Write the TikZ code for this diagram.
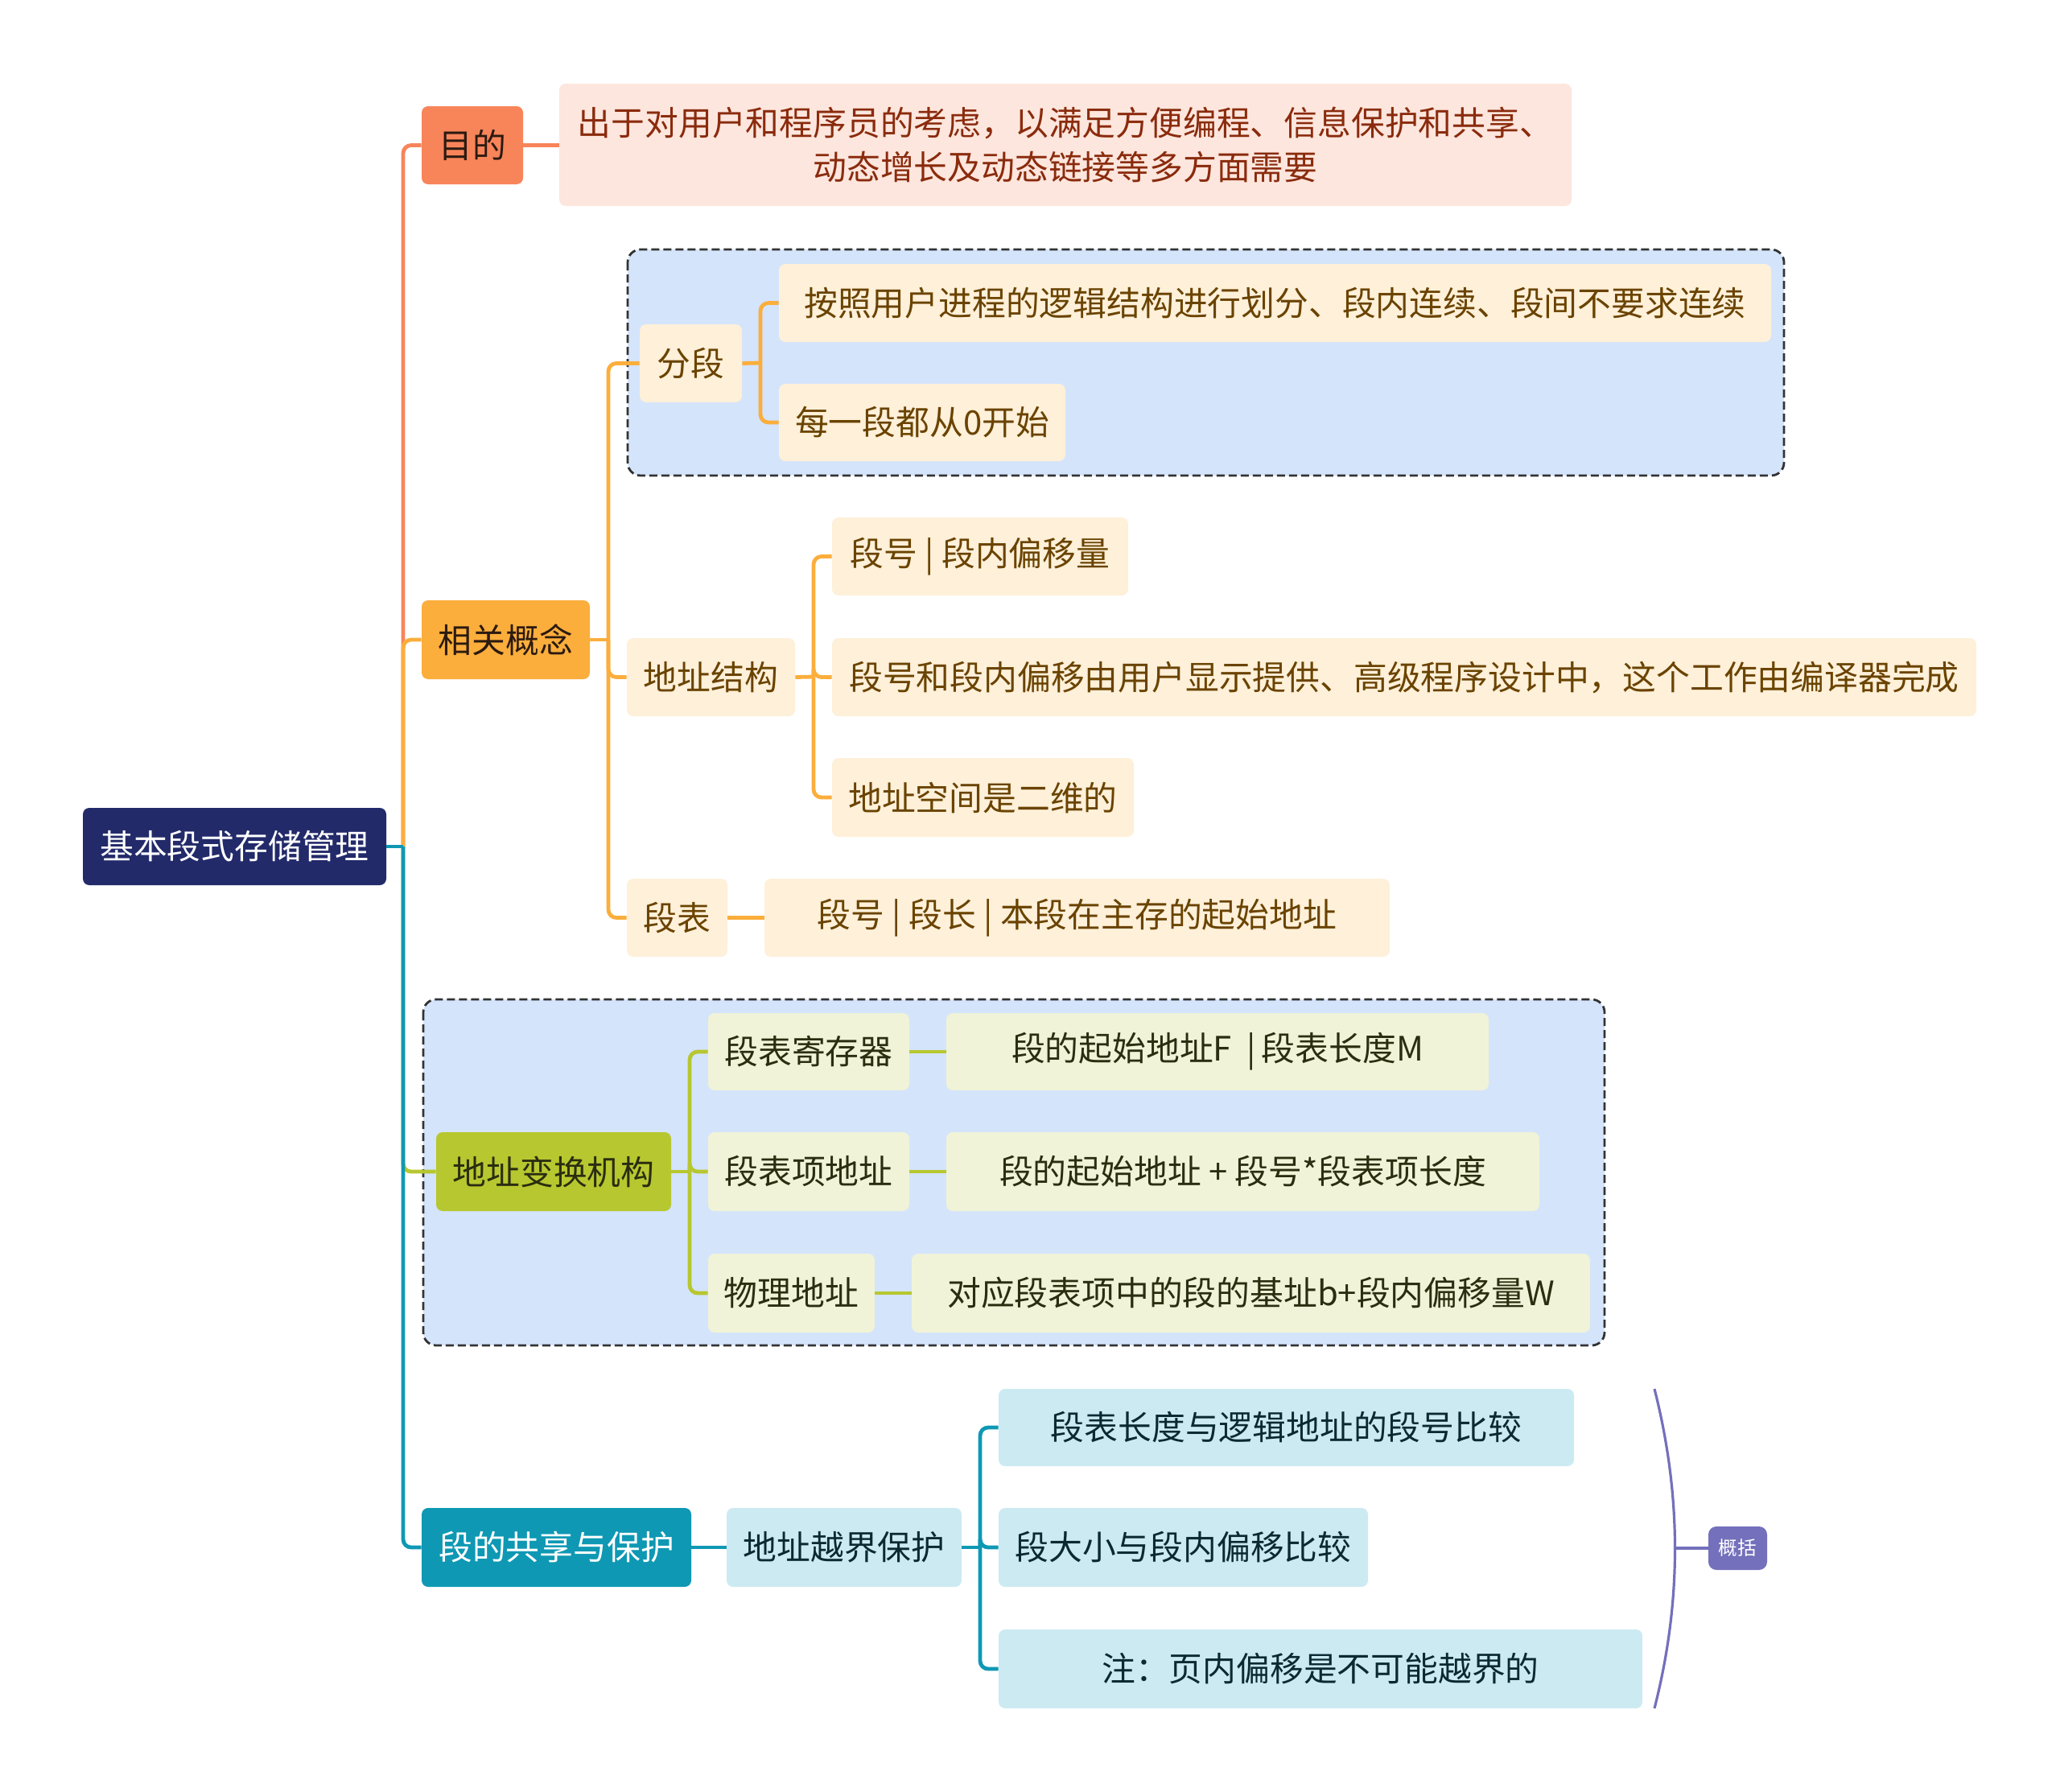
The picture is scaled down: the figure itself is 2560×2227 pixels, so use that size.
\documentclass[tikz,border=0pt]{standalone}
\usepackage{fontspec}
\setmainfont{Noto Sans CJK SC}
\definecolor{rootc}{HTML}{222A6A}
\definecolor{coralc}{HTML}{F8845A}
\definecolor{pinkc}{HTML}{FDE6DD}
\definecolor{pinktext}{HTML}{8A2B0D}
\definecolor{orangec}{HTML}{FBAE3C}
\definecolor{creamc}{HTML}{FEF0D9}
\definecolor{creamtext}{HTML}{6A4300}
\definecolor{olivec}{HTML}{B7C72F}
\definecolor{olive2c}{HTML}{F0F3D7}
\definecolor{olivetext}{HTML}{2A2D10}
\definecolor{tealc}{HTML}{0E98B4}
\definecolor{ltealc}{HTML}{CCEAF2}
\definecolor{tealtext}{HTML}{0A2A33}
\definecolor{purplec}{HTML}{7470BC}
\definecolor{bluebox}{HTML}{D4E4FB}
\definecolor{darktext}{HTML}{2B1A10}
\tikzset{
  base/.style={rounded corners=4pt, inner sep=0pt, align=center, font=\fontsize{20.9}{27.8}\selectfont},
  rootbox/.style={base, fill=rootc, text=white},
  mudibox/.style={base, fill=coralc, text=darktext},
  xgbox/.style={base, fill=orangec, text=darktext},
  dzbox/.style={base, fill=olivec, text=olivetext},
  gxbox/.style={base, fill=tealc, text=white},
  pinkbox/.style={base, fill=pinkc, text=pinktext},
  creambox/.style={base, fill=creamc, text=creamtext},
  olivebox/.style={base, fill=olive2c, text=olivetext},
  ltealbox/.style={base, fill=ltealc, text=tealtext},
  summbox/.style={base, rounded corners=5pt, fill=purplec, text=white, font=\fontsize{11.8}{14}\selectfont},
  conn/.style={line width=2.4pt, rounded corners=5pt},
  dashbox/.style={fill=bluebox, draw=black!80, line width=1.4pt, dash pattern=on 5pt off 2.5pt, rounded corners=8pt}
}
\newcommand\bx[7]{\node[#2, minimum width={(#5-#3)*0.5pt}, minimum height={(#6-#4)*0.5pt}] (#1) at ({(#3+#5)/2},{(#4+#6)/2}) {#7};}
\begin{document}
\begin{tikzpicture}[x=0.5pt, y=-0.5pt]
\useasboundingbox (0,0) rectangle (2560,2227);
% group backgrounds
\draw[dashbox] (780,310) rectangle (2217,591);
\draw[dashbox] (526,1242) rectangle (1994,1672);
% nodes
\bx{root}{rootbox}{103}{1004}{480}{1100}{基本段式存储管理}
\bx{mudi}{mudibox}{524}{132}{650}{229}{目的}
\bx{purp}{pinkbox}{695}{104}{1953}{256}{出于对用户和程序员的考虑，以满足方便编程、信息保护和共享、\\动态增长及动态链接等多方面需要}
\bx{xg}{xgbox}{524}{746}{733}{844}{相关概念}
\bx{fd}{creambox}{795}{403}{922}{500}{分段}
\bx{fd1}{creambox}{968}{328}{2201}{425}{按照用户进程的逻辑结构进行划分、段内连续、段间不要求连续}
\bx{fd2}{creambox}{968}{477}{1324}{573}{每一段都从0开始}
\bx{dzjg}{creambox}{779}{793}{988}{890}{地址结构}
\bx{jg1}{creambox}{1034}{643}{1402}{740}{段号 | 段内偏移量}
\bx{jg2}{creambox}{1034}{793}{2456}{890}{段号和段内偏移由用户显示提供、高级程序设计中，这个工作由编译器完成}
\bx{jg3}{creambox}{1034}{942}{1409}{1040}{地址空间是二维的}
\bx{db}{creambox}{779}{1092}{904}{1189}{段表}
\bx{db1}{creambox}{950}{1092}{1727}{1189}{段号 | 段长 | 本段在主存的起始地址}
\bx{dz}{dzbox}{542}{1407}{834}{1505}{地址变换机构}
\bx{ca}{olivebox}{880}{1259}{1130}{1355}{段表寄存器}
\bx{ca1}{olivebox}{1176}{1259}{1850}{1355}{段的起始地址F \ |\,段表长度M}
\bx{cb}{olivebox}{880}{1407}{1130}{1505}{段表项地址}
\bx{cb1}{olivebox}{1176}{1407}{1913}{1505}{段的起始地址 + 段号*段表项长度}
\bx{cc}{olivebox}{880}{1558}{1087}{1656}{物理地址}
\bx{cc1}{olivebox}{1133}{1558}{1976}{1656}{对应段表项中的段的基址b+段内偏移量W}
\bx{gx}{gxbox}{524}{1874}{859}{1972}{段的共享与保护}
\bx{yj}{ltealbox}{903}{1874}{1195}{1972}{地址越界保护}
\bx{yj1}{ltealbox}{1241}{1726}{1956}{1822}{段表长度与逻辑地址的段号比较}
\bx{yj2}{ltealbox}{1241}{1874}{1700}{1972}{段大小与段内偏移比较}
\bx{yj3}{ltealbox}{1241}{2025}{2041}{2123}{注：页内偏移是不可能越界的}
\bx{gk}{summbox}{2123}{1897}{2196}{1951}{概括}
% junctions
\coordinate (j0) at (501,1052);
\coordinate (jx) at (756,795);
\coordinate (jfd) at (945,451);
\coordinate (jdz) at (1011,841);
\coordinate (jdzb) at (857,1456);
\coordinate (jyj) at (1218,1923);
\coordinate (bt) at (2056,1726);
\coordinate (bm) at (2082,1924);
\coordinate (bb) at (2056,2123);
% root connectors
\draw[conn, draw=coralc] (j0) |- (mudi.west);
\draw[conn, draw=coralc] (mudi.east) -- (purp.west |- mudi.east);
\draw[conn, draw=olivec] (j0) |- (dz.west);
\draw[conn, draw=orangec] (j0) |- (xg.west);
\draw[conn, draw=tealc] (root.east) -- (j0);
\draw[conn, draw=tealc] (j0) |- (gx.west);
% 相关概念
\draw[conn, draw=orangec] (xg.east) -- (jx);
\draw[conn, draw=orangec] (jx) |- (fd.west);
\draw[conn, draw=orangec] (jx) |- (dzjg.west);
\draw[conn, draw=orangec] (jx) |- (db.west);
\draw[conn, draw=orangec] (fd.east) -- (jfd);
\draw[conn, draw=orangec] (jfd) |- (fd1.west);
\draw[conn, draw=orangec] (jfd) |- (fd2.west);
\draw[conn, draw=orangec] (dzjg.east) -- (jdz);
\draw[conn, draw=orangec] (jdz) |- (jg1.west);
\draw[conn, draw=orangec] (jdz) |- (jg2.west);
\draw[conn, draw=orangec] (jdz) |- (jg3.west);
\draw[conn, draw=orangec] (db.east) -- (db1.west);
% 地址变换机构
\draw[conn, draw=olivec] (dz.east) -- (jdzb);
\draw[conn, draw=olivec] (jdzb) |- (ca.west);
\draw[conn, draw=olivec] (jdzb) |- (cb.west);
\draw[conn, draw=olivec] (jdzb) |- (cc.west);
\draw[conn, draw=olivec] (ca.east) -- (ca1.west);
\draw[conn, draw=olivec] (cb.east) -- (cb1.west);
\draw[conn, draw=olivec] (cc.east) -- (cc1.west);
% 段的共享与保护
\draw[conn, draw=tealc] (gx.east) -- (yj.west);
\draw[conn, draw=tealc] (yj.east) -- (jyj);
\draw[conn, draw=tealc] (jyj) |- (yj1.west);
\draw[conn, draw=tealc] (jyj) |- (yj2.west);
\draw[conn, draw=tealc] (jyj) |- (yj3.west);
% summary brace
\draw[line width=1.6pt, draw=purplec] (bt) .. controls (2090,1860) and (2090,1990) .. (bb);
\draw[line width=1.6pt, draw=purplec] (bm) -- (gk.west);
\end{tikzpicture}
\end{document}
